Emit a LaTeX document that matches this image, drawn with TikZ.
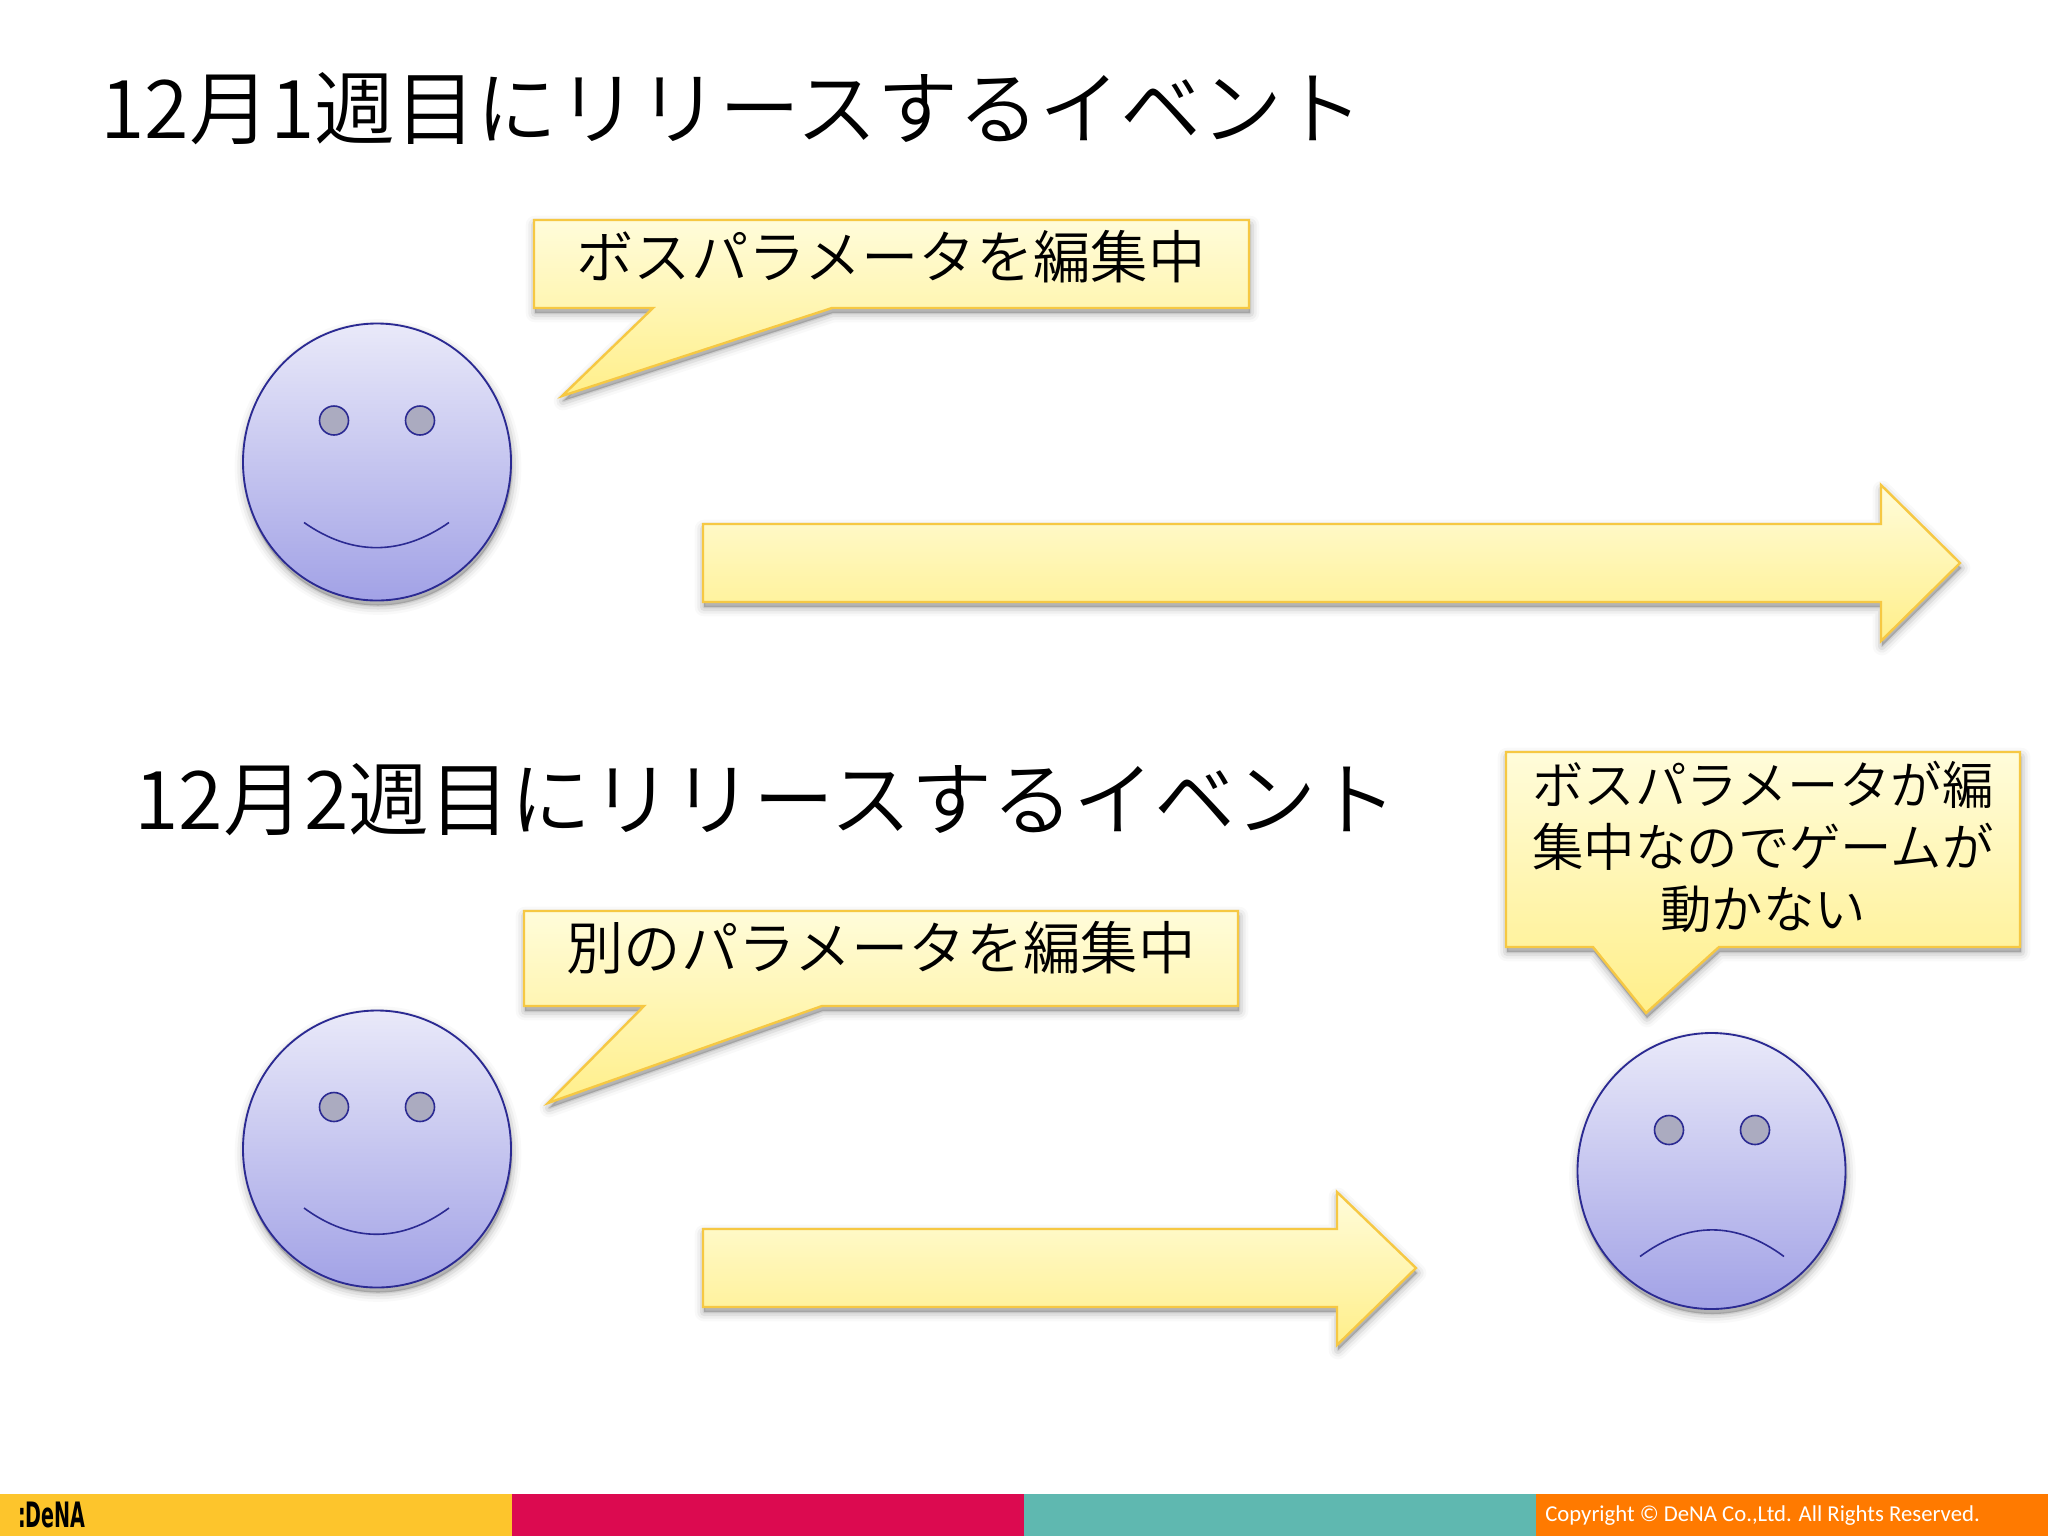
\documentclass[tikz,border=0pt]{standalone}
\usepackage{graphicx}
\usepackage{fontspec}
\setmainfont{Noto Sans CJK JP DemiLight}
\newfontfamily\copyfont{Carlito}
\newfontfamily\logofont{DejaVu Sans Condensed}[BoldFont={DejaVu Sans Condensed Bold}]
\definecolor{barA}{HTML}{FDC52C}
\definecolor{barB}{HTML}{DC0A50}
\definecolor{barC}{HTML}{5FB8B0}
\definecolor{barD}{HTML}{FF7A00}
\definecolor{yellowTop}{HTML}{FFFCDA}
\definecolor{yellowBot}{HTML}{FFEF8A}
\definecolor{yellowEdge}{HTML}{F6C843}
\definecolor{faceTop}{HTML}{E9E9F9}
\definecolor{faceBot}{HTML}{A2A2E6}
\definecolor{faceEdge}{HTML}{2B2A92}
\definecolor{eyeFill}{HTML}{ABABC0}
\tikzset{
  yellowshape/.style={top color=yellowTop,bottom color=yellowBot,draw=yellowEdge,line width=1.8pt,line join=miter},
  faceshape/.style={top color=faceTop,bottom color=faceBot,draw=faceEdge,line width=1.4pt},
  eyeshape/.style={fill=eyeFill,draw=faceEdge,line width=1.2pt},
  mouthshape/.style={draw=faceEdge,line width=1.2pt},
  titletext/.style={anchor=west,inner sep=0pt,font=\fontsize{60.75}{60.75}\selectfont},
  bubbletext/.style={inner sep=0pt,font=\fontsize{43}{43}\selectfont},
  softA/.style={draw=black,fill=black,draw opacity=.025,fill opacity=.025,line width=14pt,line join=round},
  softB/.style={draw=black,fill=black,draw opacity=.04,fill opacity=.04,line width=10pt,line join=round},
  softC/.style={draw=black,fill=black,draw opacity=.06,fill opacity=.06,line width=6pt,line join=round},
  softD/.style={draw=black,fill=black,draw opacity=.08,fill opacity=.08,line width=2pt,line join=round},
}
\newcommand{\softshadow}[1]{%
  \begin{scope}[shift={(1,5)}]
    \path[softA] #1;
    \path[softB] #1;
    \path[softC] #1;
    \path[softD] #1;
  \end{scope}}
\newcommand{\smiley}[3]{% centre x, centre y, ry
  \softshadow{(#1,#2) ellipse [x radius=134,y radius=#3]}
  \path[faceshape] (#1,#2) ellipse [x radius=134,y radius=#3];
}
\begin{document}
\begin{tikzpicture}[x=0.75pt,y=-0.75pt]
\useasboundingbox (0,0) rectangle (2048,1536);
\fill[white] (0,0) rectangle (2048,1536);

% footer
\fill[barA] (0,1494) rectangle (512,1536);
\fill[barB] (512,1494) rectangle (1024,1536);
\fill[barC] (1024,1494) rectangle (1536,1536);
\fill[barD] (1536,1494) rectangle (2048,1536);
\node[anchor=west,inner sep=0pt,text=black,font=\logofont\bfseries\fontsize{21}{21}\selectfont] (logo) at (18,1515) {\scalebox{.76}[1.25]{:DeNA}};
\node[anchor=west,inner sep=0pt,text=white,font=\copyfont\fontsize{17.05}{17.05}\selectfont] (copyright) at (1545,1516) {Copyright © DeNA Co.,Ltd. All Rights Reserved.};

% titles
\node[titletext] (title1) at (100,109) {12月1週目にリリースするイベント};
\node[titletext] (title2) at (134,800) {12月2週目にリリースするイベント};

% bubble 1
\softshadow{(534,220) -- (1249,220) -- (1249,308) -- (832,308) -- (562,396) -- (653,308) -- (534,308) -- cycle}
\path[yellowshape] (534,220) -- (1249,220) -- (1249,308) -- (832,308) -- (562,396) -- (653,308) -- (534,308) -- cycle;
\node[bubbletext] (b1) at (891,257) {ボスパラメータを編集中};

% bubble 2
\softshadow{(524,911) -- (1238,911) -- (1238,1006) -- (822,1006) -- (548,1103) -- (644,1006) -- (524,1006) -- cycle}
\path[yellowshape] (524,911) -- (1238,911) -- (1238,1006) -- (822,1006) -- (548,1103) -- (644,1006) -- (524,1006) -- cycle;
\node[bubbletext] (b2) at (881,948) {別のパラメータを編集中};

% bubble 3
\softshadow{(1506,752) -- (2020,752) -- (2020,947) -- (1719,947) -- (1646,1013) -- (1593,947) -- (1506,947) -- cycle}
\path[yellowshape] (1506,752) -- (2020,752) -- (2020,947) -- (1719,947) -- (1646,1013) -- (1593,947) -- (1506,947) -- cycle;
\node[inner sep=0pt,align=center,font=\fontsize{38.6}{46.2}\selectfont] (b3) at (1763,847) {ボスパラメータが編\\集中なのでゲームが\\動かない};

% arrow 1
\softshadow{(703,524) -- (1881,524) -- (1881,485) -- (1960,563) -- (1881,641) -- (1881,602) -- (703,602) -- cycle}
\path[yellowshape] (703,524) -- (1881,524) -- (1881,485) -- (1960,563) -- (1881,641) -- (1881,602) -- (703,602) -- cycle;

% arrow 2
\softshadow{(703,1229) -- (1337,1229) -- (1337,1192) -- (1416,1268) -- (1337,1345) -- (1337,1307) -- (703,1307) -- cycle}
\path[yellowshape] (703,1229) -- (1337,1229) -- (1337,1192) -- (1416,1268) -- (1337,1345) -- (1337,1307) -- (703,1307) -- cycle;

% face 1
\smiley{377}{462}{138.5}
\path[eyeshape] (334,420.5) circle [radius=14.5];
\path[eyeshape] (420,420.5) circle [radius=14.5];
\draw[mouthshape] (304,522.5) .. controls (352,556) and (401,556) .. (449,522.5);

% face 2
\smiley{377}{1149}{138.5}
\path[eyeshape] (334,1107) circle [radius=14.5];
\path[eyeshape] (420,1107) circle [radius=14.5];
\draw[mouthshape] (304,1208) .. controls (352,1243) and (401,1243) .. (449,1208);

% face 3
\smiley{1711.5}{1171}{138}
\path[eyeshape] (1669,1130) circle [radius=14.5];
\path[eyeshape] (1755,1130) circle [radius=14.5];
\draw[mouthshape] (1640,1256.5) .. controls (1688,1221) and (1736,1221) .. (1784,1256.5);
\end{tikzpicture}
\end{document}
